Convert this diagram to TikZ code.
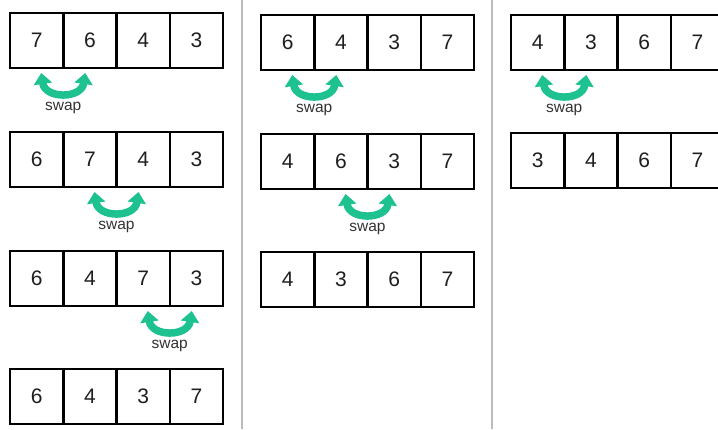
\documentclass[tikz,border=0pt]{standalone}
\usepackage{fontspec}
\setmainfont{Liberation Sans}
\usetikzlibrary{arrows.meta,calc}
\definecolor{swapgreen}{HTML}{1DC290}
\definecolor{sepgray}{HTML}{BBBBBB}
\newcommand\cellrow[4]{%
  \foreach \v [count=\i] in {#4}
    \node[cell, anchor=north west] (#1-\i) at ({#2+(\i-1)*53.25}, #3) {\v};}
\newcommand\swapat[1]{%
  \draw[swaparrow] ($(#1.south east)+(-22,5)$) .. controls ($(#1.south east)+(-18,31)$) and ($(#1.south east)+(18,31)$) .. ($(#1.south east)+(22,5)$);
  \node[swaplabel] (#1-lbl) at ($(#1.south east)+(0,40)$) {swap};}
\begin{document}
\begin{tikzpicture}[x=1pt,y=-1pt,
  cell/.style={draw=black, line width=2.5pt, minimum width=53.25pt, minimum height=55pt,
    inner sep=0pt, outer sep=0pt, font=\fontsize{21}{25}\selectfont, text=black!88},
  swaparrow/.style={draw=swapgreen, line width=7.5pt,
    {Triangle[length=11pt,width=18pt]}-{Triangle[length=11pt,width=18pt]}},
  swaplabel/.style={font=\fontsize{15.5}{18}\selectfont, text=black!80, inner sep=0pt},
  sep/.style={draw=sepgray, line width=2pt}]
\useasboundingbox (0,0) rectangle (718,429);
\fill[white] (0,0) rectangle (718,429);
\clip (0,0) rectangle (718,429);
% separators
\coordinate (s1t) at (242,0); \coordinate (s1b) at (242,429);
\coordinate (s2t) at (492,0); \coordinate (s2b) at (492,429);
\draw[sep] (s1t) -- (s1b);
\draw[sep] (s2t) -- (s2b);
% column 1
\cellrow{a}{10}{13}{7,6,4,3}
\cellrow{b}{10}{132}{6,7,4,3}
\cellrow{c}{10}{251}{6,4,7,3}
\cellrow{d}{10}{369}{6,4,3,7}
\swapat{a-1}
\swapat{b-2}
\swapat{c-3}
% column 2
\cellrow{e}{261}{15}{6,4,3,7}
\cellrow{f}{261}{134}{4,6,3,7}
\cellrow{g}{261}{252}{4,3,6,7}
\swapat{e-1}
\swapat{f-2}
% column 3
\cellrow{h}{511}{15}{4,3,6,7}
\cellrow{k}{511}{133}{3,4,6,7}
\swapat{h-1}
\end{tikzpicture}
\end{document}
